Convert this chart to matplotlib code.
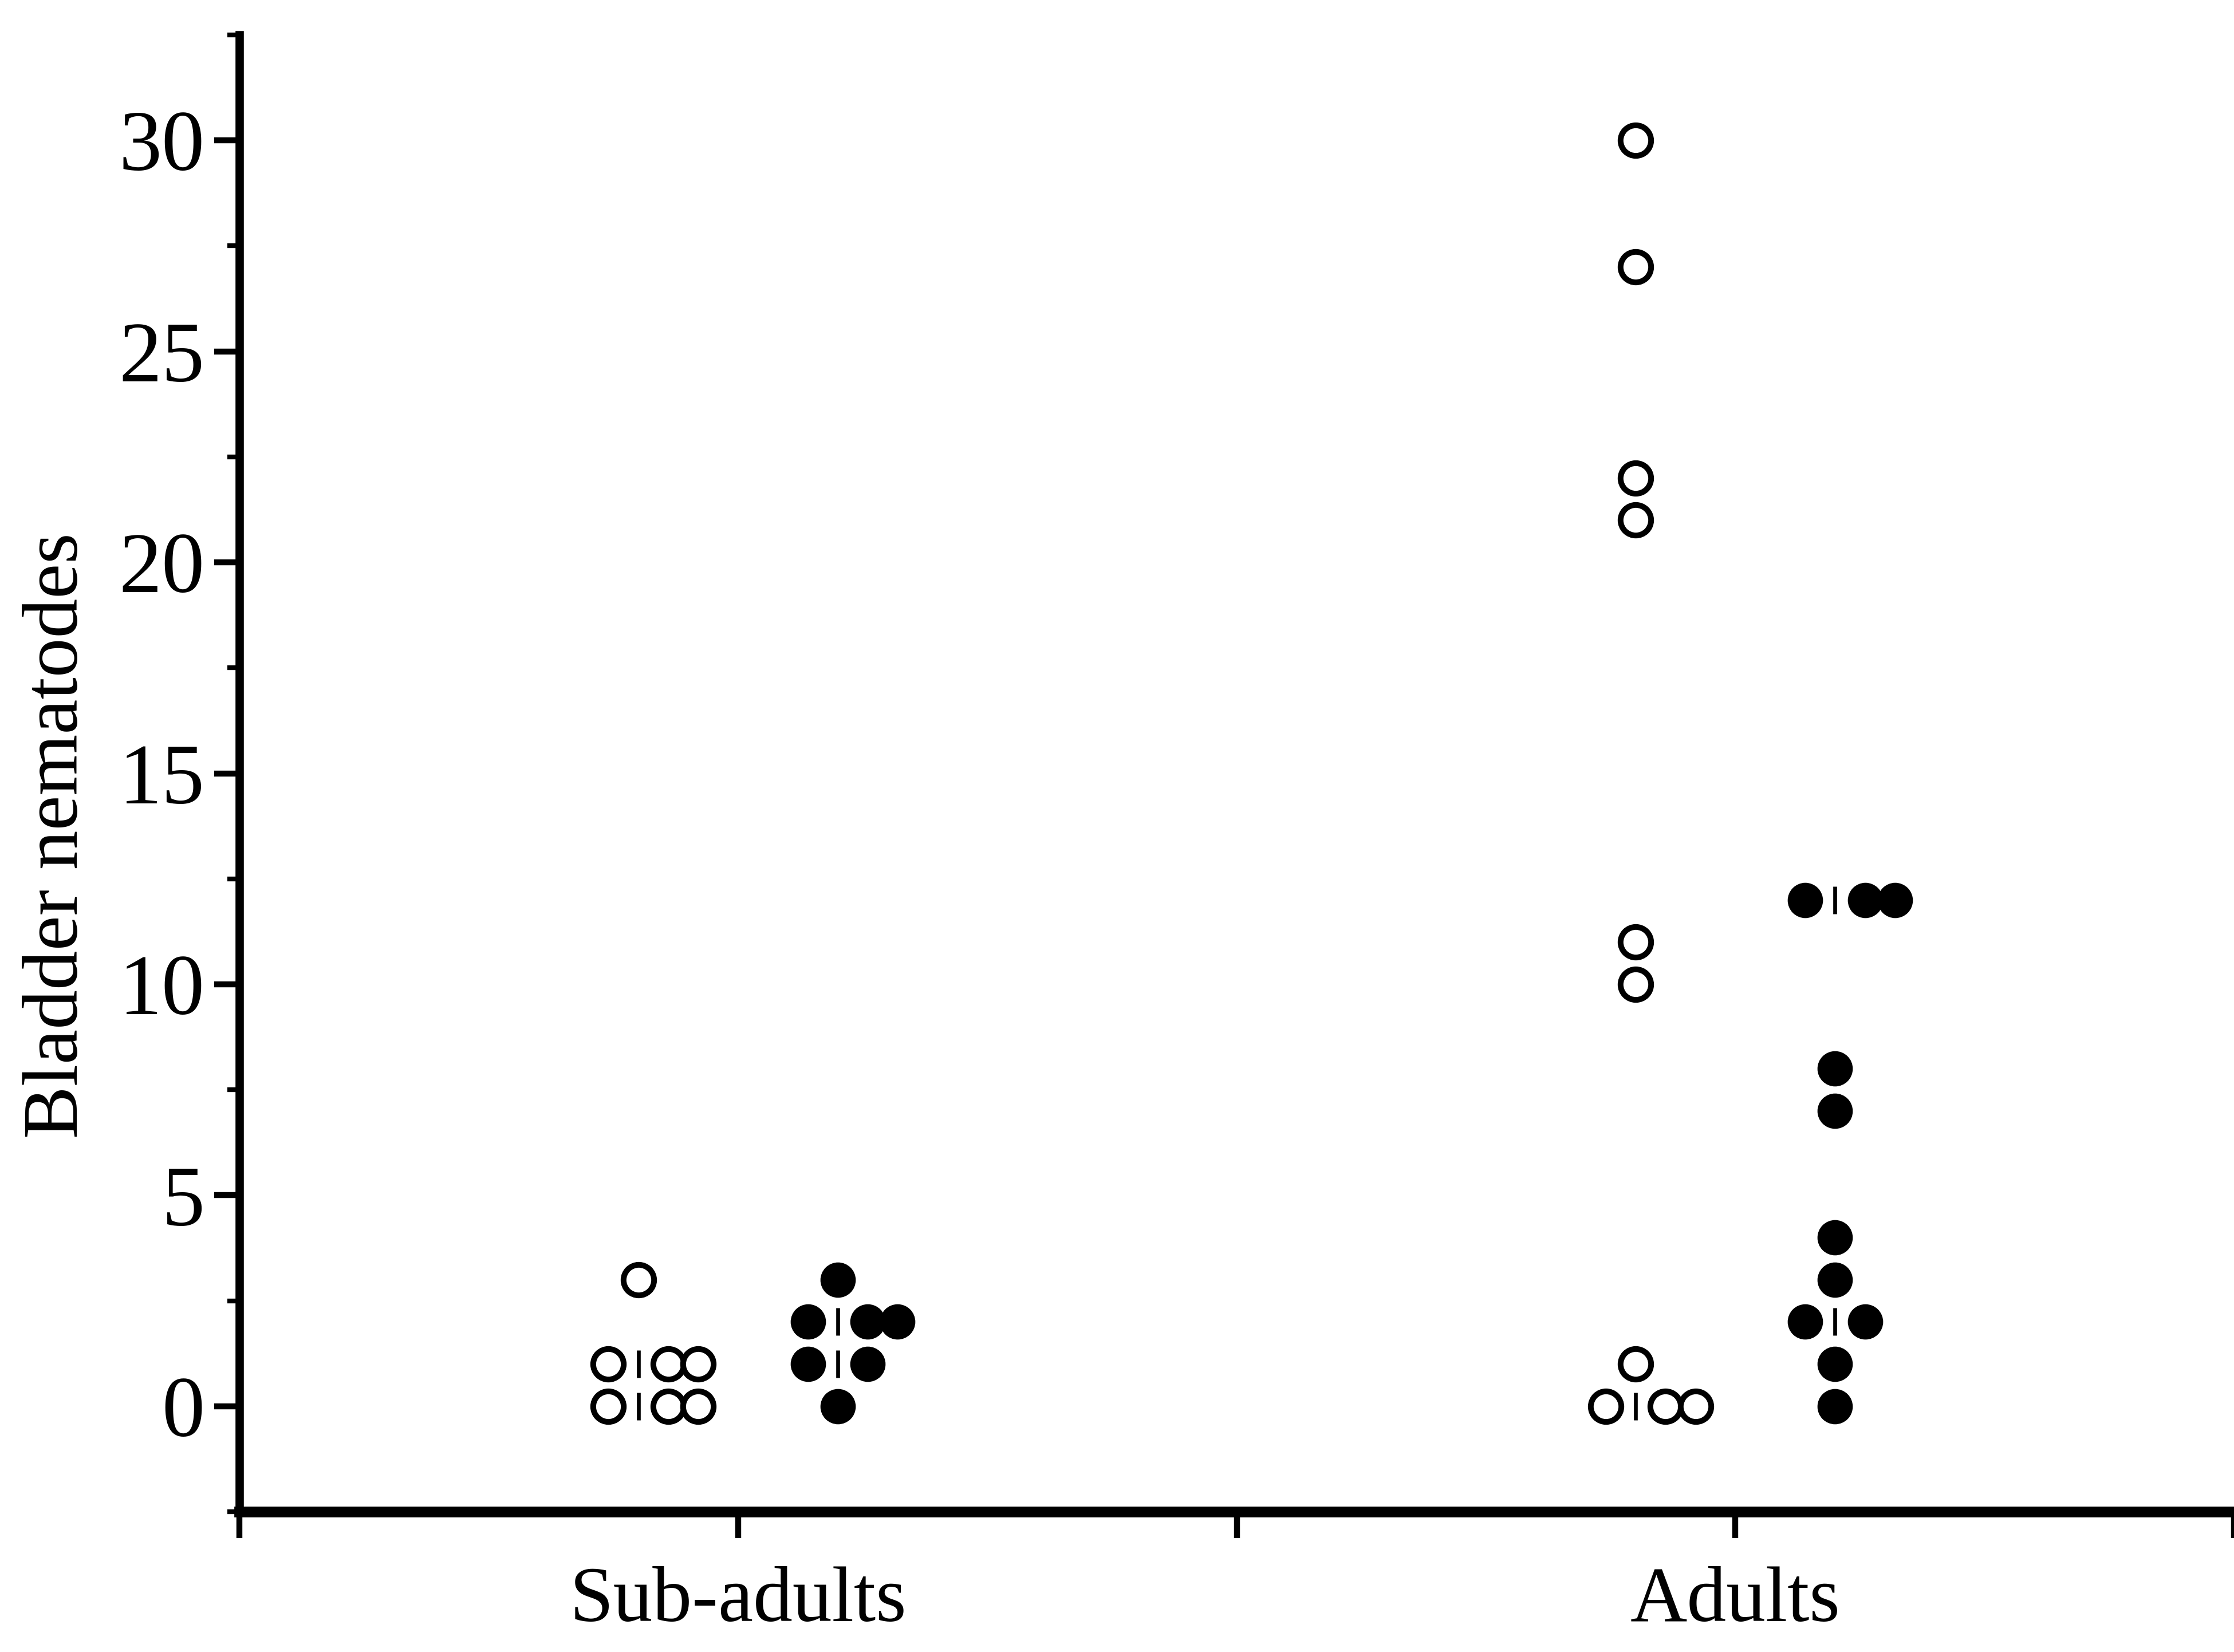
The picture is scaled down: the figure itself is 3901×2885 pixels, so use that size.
import numpy as np
import matplotlib
matplotlib.use("Agg")
import matplotlib.pyplot as plt
from matplotlib.ticker import MultipleLocator

# ---- data ----
categories = ["Sub-adults", "Adults"]
cat_positions = [1, 3]
sub_open = [3, 1, 1, 1, 0, 0, 0]
sub_filled = [3, 2, 2, 2, 1, 1, 0]
adult_open = [30, 27, 22, 21, 11, 10, 1, 0, 0, 0]
adult_filled = [12, 12, 12, 8, 7, 4, 3, 2, 2, 1, 0]
y_ticks = [0, 5, 10, 15, 20, 25, 30]

plt.rcParams['font.family'] = ['Liberation Serif', 'DejaVu Serif']

W, H, DPI = 3901, 2885, 300
fig = plt.figure(figsize=(W / DPI, H / DPI), dpi=DPI)
left, right, top, bottom = 418, 3901, 61, 2640
ax = fig.add_axes([left / W, 1 - bottom / H, (right - left) / W, (bottom - top) / H])

GROUP_OFF = 0.2
STEP = 0.06


def dot_layout(values, center):
    xs, ys, bx, by = [], [], [], []
    vals, counts = np.unique(values, return_counts=True)
    for v, n in zip(vals, counts):
        offs = [0] if n == 1 else [-1] + list(range(1, n))
        for o in offs:
            xs.append(center + o * STEP)
            ys.append(v)
        if n > 1:
            bx.append(center)
            by.append(v)
    return xs, ys, bx, by


groups = [
    (sub_open, cat_positions[0] - GROUP_OFF, False),
    (sub_filled, cat_positions[0] + GROUP_OFF, True),
    (adult_open, cat_positions[1] - GROUP_OFF, False),
    (adult_filled, cat_positions[1] + GROUP_OFF, True),
]

for vals, center, filled in groups:
    xs, ys, bx, by = dot_layout(vals, center)
    if filled:
        ax.plot(xs, ys, linestyle='none', marker='o', ms=14.8, mfc='black',
                mec='black', mew=0, clip_on=False, zorder=3)
    else:
        ax.plot(xs, ys, linestyle='none', marker='o', ms=12.8, mfc='white',
                mec='black', mew=2.4, clip_on=False, zorder=3)
    if bx:
        ax.plot(bx, by, linestyle='none', marker='|', ms=11.5, mew=1.6,
                color='black', zorder=3)

ax.set_xlim(0, 4)
ax.set_ylim(-2.5, 32.5)

for s in ['top', 'right']:
    ax.spines[s].set_visible(False)
ax.spines['left'].set_linewidth(3.5)
ax.spines['bottom'].set_linewidth(4.5)

ax.set_xticks([0, 1, 2, 3, 4])
ax.set_xticklabels(["", categories[0], "", categories[1], ""])
ax.set_yticks(y_ticks)
ax.set_yticklabels([str(t) for t in y_ticks])
ax.yaxis.set_minor_locator(MultipleLocator(2.5))

ax.tick_params(axis='y', which='major', direction='out', length=10.5, width=2.5,
               labelsize=36, pad=4)
ax.tick_params(axis='y', which='minor', direction='out', length=5, width=2.0)
ax.tick_params(axis='x', which='major', direction='out', length=11, width=2.5,
               labelsize=33, pad=12)
for t in ax.xaxis.get_major_ticks():
    t.tick1line.set_clip_on(False)

ax.set_ylabel("Bladder nematodes", fontsize=33)
ax.yaxis.set_label_coords(-0.073, 0.458)

fig.savefig("out.png", dpi=DPI, facecolor='white')
